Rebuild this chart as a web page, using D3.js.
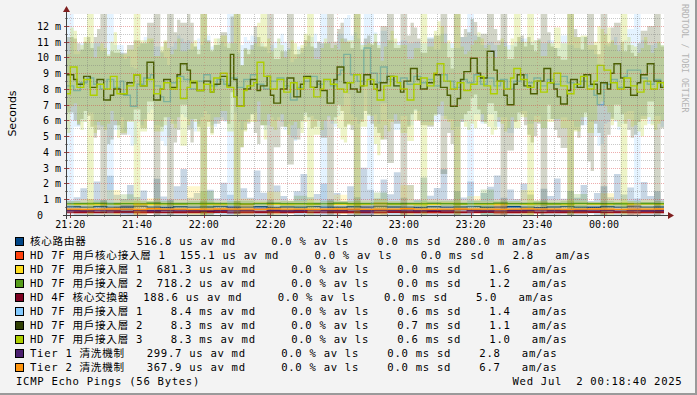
<!DOCTYPE html>
<html>
<head>
<meta charset="utf-8">
<title>ICMP Echo Pings</title>
<script src="https://cdn.jsdelivr.net/npm/d3@7"></script>
<style>
  body { margin: 0; background: #f3f3f3; }
  svg { display: block; }
  text { font-family: "DejaVu Sans Mono", "Noto Sans CJK TC", monospace; white-space: pre; fill: #000; }
  text.legend { font-size: 10.6px; letter-spacing: 0.7px; }
  text.tick { font-size: 10px; }
  text#y_label { font-family: "DejaVu Sans", sans-serif; font-size: 11px; }
  text#credit { font-size: 8.2px; fill: #b4b4b4; }
</style>
</head>
<body>
<script>
// ---- data (milliseconds) ----
var targetNames = ["核心路由器", "HD 7F 用戶核心接入層 1", "HD 7F 用戶接入層 1", "HD 7F 用戶接入層 2",
    "HD 4F 核心交換器", "HD 7F 用戶接入層 1", "HD 7F 用戶接入層 2", "HD 7F 用戶接入層 3",
    "Tier 1 清洗機制", "Tier 2 清洗機制"];

// medians, low latency targets (4 min blocks)
var medRouter = [0.52,0.50,0.53,0.49,0.51,0.55,0.50,0.48,0.52,0.50,0.51,0.54,0.49,0.50,0.52,0.48,0.51,0.50,0.53,0.50,0.49,0.52,0.50,0.55,0.51,0.50,0.48,0.52,0.50,0.51,0.53,0.49,0.50,0.52,0.50,0.47,0.51,0.53,0.50,0.49,0.52,0.50,0.54,0.50,0.51];
var medCoreAccess = [0.15,0.16,0.15,0.15,0.17,0.15,0.16,0.15,0.15,0.16,0.15,0.17,0.15,0.15,0.16,0.15,0.15,0.17,0.16,0.15,0.15,0.16,0.15,0.15,0.17,0.15,0.16,0.15,0.15,0.16,0.15,0.17,0.15,0.15,0.16,0.15,0.15,0.16,0.15,0.17,0.15,0.16,0.15,0.15,0.16];
var medAccess1 = [0.68,0.70,0.67,0.68,0.73,0.68,0.66,0.69,0.68,0.72,0.68,0.67,0.70,0.68,0.74,0.68,0.67,0.69,0.68,0.71,0.68,0.66,0.68,0.72,0.68,0.69,0.67,0.68,0.73,0.68,0.70,0.68,0.67,0.72,0.68,0.69,0.68,0.66,0.71,0.68,0.68,0.73,0.68,0.69,0.68];
var medAccess2 = [0.72,0.72,0.74,0.71,0.72,0.72,0.75,0.72,0.71,0.72,0.73,0.72,0.72,0.70,0.72,0.74,0.72,0.72,0.71,0.72,0.75,0.72,0.72,0.73,0.71,0.72,0.72,0.74,0.72,0.71,0.72,0.72,0.75,0.72,0.72,0.73,0.71,0.72,0.74,0.72,0.72,0.71,0.72,0.73,0.72];
var medCoreSwitch = [0.19,0.19,0.18,0.19,0.20,0.19,0.19,0.18,0.19,0.19,0.21,0.19,0.18,0.19,0.19,0.20,0.19,0.19,0.18,0.19,0.19,0.20,0.19,0.18,0.19,0.19,0.19,0.21,0.19,0.18,0.19,0.19,0.20,0.19,0.19,0.18,0.19,0.19,0.20,0.19,0.18,0.19,0.19,0.20,0.19];
var medTier1 = [0.30,0.29,0.31,0.30,0.34,0.30,0.29,0.30,0.32,0.30,0.28,0.30,0.31,0.30,0.35,0.30,0.29,0.30,0.31,0.30,0.30,0.33,0.29,0.30,0.30,0.31,0.28,0.30,0.30,0.34,0.30,0.29,0.31,0.30,0.30,0.32,0.30,0.29,0.30,0.31,0.30,0.33,0.30,0.29,0.30];
var medTier2 = [0.37,0.36,0.37,0.38,0.37,0.36,0.40,0.37,0.37,0.36,0.37,0.38,0.37,0.37,0.36,0.39,0.37,0.37,0.36,0.37,0.38,0.37,0.36,0.37,0.37,0.40,0.37,0.36,0.37,0.38,0.37,0.37,0.36,0.37,0.39,0.37,0.37,0.36,0.37,0.38,0.37,0.36,0.37,0.37,0.38];

// medians, 7F access layer (1 min steps)
var medUser1 = [8.2,8.2,7.9,7.9,8.4,8.4,8.7,8.7,8.3,8.3, 8.0,8.0,8.6,8.6,8.1,8.1,8.5,7.6,7.6,6.9,
    6.9,8.3,8.3,8.7,8.7,8.9,8.2,8.2,7.5,7.2, 7.2,8.4,8.4,8.8,8.8,8.6,8.6,8.0,8.0,8.5,
    8.5,8.9,8.9,8.2,8.2,8.6,8.6,8.3,8.3,8.7, 8.7,8.1,8.1,8.6,8.6,8.9,8.9,8.3,8.3,8.0,
    8.0,8.5,8.5,8.7,8.7,8.2,8.2,7.3,7.3,8.1, 8.1,8.5,8.5,8.8,8.8,8.3,8.3,8.6,8.6,8.2,
    8.2,8.9,9.2,10.2,10.2,8.9,8.9,8.5,8.5,10.6, 10.6,9.0,9.0,8.4,9.4,9.4,8.6,8.6,8.2,8.2,
    8.7,8.7,8.3,8.3,8.8,8.8,8.4,8.4,8.6,8.6, 8.2,8.2,8.9,8.9,8.5,8.5,8.1,8.1,8.6,8.6,
    8.4,8.4,8.9,8.9,8.3,8.3,8.7,8.7,8.2,8.2, 8.6,8.6,8.0,8.0,8.5,8.5,8.9,8.9,8.4,8.4,
    8.7,8.7,8.2,8.2,8.6,8.6,8.3,8.3,8.8,8.8, 8.4,8.4,8.1,8.1,8.5,8.5,8.2,8.2,7.6,7.0,
    7.0,8.3,8.3,8.6,8.6,8.1,8.1,8.8,9.2,9.2, 9.2,9.2,8.7,8.7,8.3,8.3,8.6,8.6,8.2,8.2];
var medUser2 = [8.9,8.9,8.6,8.3,8.3,8.8,8.8,8.1,8.1,8.6, 8.6,7.3,7.3,7.6,8.0,8.0,7.7,7.7,8.4,8.4,
    8.9,8.9,8.2,8.2,9.7,9.7,7.3,7.3,8.0,8.6, 8.6,8.1,8.1,8.9,9.6,9.6,9.2,8.4,8.4,7.9,
    7.9,8.5,8.5,7.8,8.3,8.3,8.8,8.8,8.2,10.2, 8.6,6.9,6.9,8.0,8.0,8.6,8.6,7.9,8.2,8.2,
    8.8,7.6,7.1,7.1,8.0,8.0,8.7,8.7,7.5,7.5, 8.3,8.8,8.8,8.1,8.1,8.5,7.9,7.9,7.1,7.1,
    8.6,9.4,9.4,8.4,8.4,8.0,8.0,7.8,8.2,8.9, 8.9,8.3,8.3,7.9,8.4,8.4,8.8,8.8,8.2,8.2,
    7.8,8.5,8.5,9.3,9.3,8.6,8.0,8.0,8.4,8.4, 8.9,8.9,8.1,8.1,7.6,6.9,6.9,7.4,8.6,9.1,
    9.1,9.95,9.95,9.0,8.7,8.7,10.4,10.4,9.2,8.5, 8.5,7.6,7.0,7.0,8.3,8.9,8.9,8.2,8.2,7.7,
    7.7,8.5,8.5,9.3,9.3,8.4,8.0,7.5,7.05,7.05, 7.9,8.6,8.6,8.1,8.1,8.9,8.9,8.3,8.3,7.7,
    8.4,8.4,8.0,9.0,9.6,9.6,8.7,8.1,8.1,7.6, 7.6,8.4,8.9,8.9,9.6,9.6,8.5,8.5,8.1,8.1];
var medUser3 = [7.7,9.4,9.4,8.1,8.1,8.6,8.6,7.6,7.6,8.3, 8.3,8.0,8.0,8.8,8.8,7.7,7.7,7.7,8.2,8.2,
    8.9,8.9,8.2,8.2,8.6,8.6,7.7,7.7,8.0,8.4, 8.4,8.0,8.0,8.7,7.4,7.4,8.1,8.5,8.5,7.9,
    7.9,8.3,8.3,7.8,8.7,8.7,9.0,9.0,8.1,8.1, 7.5,6.9,6.9,7.9,8.2,8.2,8.4,9.7,9.7,8.8,
    8.8,8.0,8.0,8.6,8.6,7.8,7.8,8.4,8.4,8.0, 8.0,8.7,8.7,8.1,7.5,7.5,8.0,8.6,8.6,8.3,
    8.3,8.0,8.0,7.8,8.4,8.4,8.9,8.9,8.2,8.2, 8.6,8.6,8.0,7.3,7.3,8.2,8.2,8.8,8.8,8.4,
    8.0,8.0,7.3,7.3,8.3,8.3,8.7,8.7,8.2,8.2, 9.0,9.6,9.6,8.5,8.5,8.0,8.0,8.4,8.4,7.9,
    7.9,8.3,8.3,8.8,8.8,8.2,8.2,7.7,7.7,8.5, 8.5,8.0,8.0,8.7,9.3,9.3,8.6,8.6,8.1,8.1,
    8.5,8.5,7.8,7.8,8.4,8.4,9.0,9.0,8.2,8.2, 7.7,7.7,8.3,8.3,8.8,8.8,8.0,8.0,8.5,9.5,
    9.5,9.2,9.2,8.4,8.4,8.0,8.0,8.7,8.7,8.2, 8.2,7.8,7.8,8.5,8.5,8.0,8.0,8.4,8.4,8.1];

// ping deviation (4 min blocks for the fast ones, 2 min blocks for the rest)
var sdRouter = [0.4,0.6,1.2,0.5,1.6,0.4,2.0,0.8,0.5,1.4, 0.6,1.0,0.4,1.8,0.7,0.5,1.3,2.4,0.6,0.9,
    0.4,1.1,0.5,1.5,0.8,0.4,1.2,0.6,2.3,0.9, 0.5,1.4,0.7,0.4,1.0,2.1,0.6,0.8,1.5,0.5,
    0.9,0.4,1.3,0.6,2.5,1.1,0.5,1.7,0.8,2.2, 0.6,1.4,0.5,1.9,0.7,1.2,2.4,0.5,1.0,0.6,
    1.6,0.4,0.9,1.3,2.0,0.6,1.1,0.5,1.5,0.8, 0.4,1.2,0.7,1.8,0.5,1.0,0.6,1.4,0.4,0.9,
    1.3,0.6,2.1,0.8,1.2,0.5,1.6,0.7,1.0,0.5];
var sdCoreAccess = [0.04,0.05,0.03,0.06,0.04,0.05,0.04,0.03,0.05,0.06,0.04,0.04,0.05,0.03,0.04,0.06,0.05,0.04,0.03,0.05,0.04,0.06,0.04,0.05,0.03,0.04,0.05,0.04,0.06,0.04,0.03,0.05,0.04,0.05,0.04,0.06,0.03,0.04,0.05,0.04,0.05,0.03,0.04,0.06,0.04];
var sdAccess1 = [0.2,0.3,0.15,0.9,0.2,0.25,0.4,0.15,0.3,1.1,0.2,0.25,0.15,0.35,0.2,0.8,0.25,0.2,0.3,0.15,0.6,0.2,0.25,0.3,0.2,1.2,0.15,0.3,0.2,0.25,0.5,0.2,0.3,0.15,0.9,0.2,0.25,0.3,0.2,0.15,0.7,0.25,0.2,0.3,0.2];
var sdAccess2 = [0.15,0.1,0.2,0.12,0.6,0.15,0.1,0.18,0.12,0.15,0.8,0.1,0.15,0.2,0.12,0.1,0.15,0.5,0.12,0.18,0.1,0.15,0.12,0.7,0.15,0.1,0.2,0.12,0.15,0.1,0.18,0.9,0.12,0.15,0.1,0.2,0.12,0.15,0.6,0.1,0.15,0.12,0.18,0.1,0.15];
var sdCoreSwitch = [0.05,0.04,0.06,0.05,0.07,0.05,0.04,0.05,0.06,0.05,0.04,0.05,0.08,0.05,0.04,0.05,0.06,0.05,0.04,0.05,0.05,0.07,0.05,0.04,0.05,0.06,0.05,0.04,0.05,0.05,0.06,0.05,0.04,0.07,0.05,0.05,0.04,0.06,0.05,0.05,0.04,0.05,0.06,0.05,0.04];
var sdUser1 = [9,2.3,2.5,2.2,2.6,2.4,9,2.7,2.3,2.5, 2.4,2.6,2.2,2.5,2.8,2.3,2.6,2.4,2.5,2.7,
    2.3,2.5,2.6,2.4,9,2.2,2.7,2.5,2.4,2.6, 2.3,2.5,2.8,2.4,2.6,2.2,2.5,2.7,9,2.4,
    2.6,2.3,2.5,2.7,2.4,9,2.6,2.3,2.5,2.8, 2.4,2.6,2.2,2.5,2.7,2.3,2.6,2.4,2.5,2.7,
    9,2.5,2.5,2.3,2.6,2.4,2.8,2.5,2.3,2.6, 2.4,2.7,2.5,2.3,2.6,2.4,2.5,2.8,2.3,2.6,
    2.5,2.4,2.7,2.3,2.6,9,2.4,2.5,2.3,2.6];
var sdUser2 = [2.4,2.6,2.2,2.5,3.2,9,2.8,2.3,2.6,2.4, 2.2,2.7,2.5,9,2.4,9,3.5,2.6,3.8,2.3,
    9,2.6,2.5,2.8,2.4,9,2.6,2.2,3.4,2.5, 9,2.8,2.4,5.5,2.7,2.3,2.6,2.5,3.0,9,
    2.4,2.8,2.6,9,2.3,2.5,2.7,3.6,5.5,2.4, 9,2.9,2.6,2.3,2.8,2.5,5.5,2.4,9,2.7,
    2.5,2.3,2.8,3.3,2.6,9,2.9,2.4,2.5,3.1, 2.7,9,2.3,2.6,2.8,9,3.2,2.4,5.5,2.5,
    9,2.9,2.6,2.3,2.7,2.5,2.8,2.4,9,2.6];
var sdUser3 = [2.5,2.3,2.7,9,2.4,2.6,2.2,2.8,2.5,2.3, 9,2.9,2.6,2.4,2.7,2.2,2.5,3.0,2.4,2.6,
    9,2.7,2.5,2.4,2.8,9,2.6,2.3,2.5,4.0, 2.4,2.6,2.2,2.7,2.5,2.8,9,2.4,2.6,2.3,
    2.5,3.2,2.7,9,2.6,2.3,3.5,2.5,2.9,2.4, 2.8,2.6,2.3,9,2.5,2.7,2.4,2.6,9,2.3,
    2.5,2.8,2.4,2.6,2.3,2.7,2.5,3.8,2.4,9, 2.6,2.3,2.5,2.9,2.7,9,3.0,2.6,2.8,2.5,
    2.3,2.7,2.4,9,2.6,2.5,2.8,2.3,2.6,2.4];
var sdTier1 = [0.06,0.08,0.05,0.07,0.3,0.06,0.05,0.08,0.06,0.07,0.05,0.06,0.25,0.07,0.06,0.05,0.08,0.06,0.07,0.05,0.06,0.08,0.3,0.06,0.05,0.07,0.06,0.08,0.05,0.06,0.07,0.06,0.28,0.05,0.07,0.06,0.08,0.05,0.06,0.07,0.06,0.05,0.3,0.07,0.06];
var sdTier2 = [0.08,0.1,0.07,0.12,0.09,0.4,0.08,0.1,0.07,0.09,0.11,0.08,0.1,0.35,0.09,0.08,0.1,0.07,0.12,0.08,0.09,0.1,0.08,0.45,0.09,0.07,0.1,0.08,0.11,0.09,0.08,0.1,0.38,0.07,0.09,0.1,0.08,0.12,0.09,0.08,0.1,0.07,0.4,0.09,0.08];

// legend statistics
var legendMedian = [516.8, 155.1, 681.3, 718.2, 188.6, 8.4, 8.3, 8.3, 299.7, 367.9];
var legendMedianUnit = ["us", "us", "us", "us", "us", "ms", "ms", "ms", "us", "us"];
var legendLoss = [0, 0, 0, 0, 0, 0, 0, 0, 0, 0];
var legendSd = [0, 0, 0, 0, 0, 0.6, 0.7, 0.6, 0, 0];
var legendAmas = [280.0, 2.8, 1.6, 1.2, 5.0, 1.4, 1.1, 1.0, 2.8, 6.7];
var legendAmasUnit = ["m", " ", " ", " ", " ", " ", " ", " ", " ", " "];

var yTicks = [0, 1, 2, 3, 4, 5, 6, 7, 8, 9, 10, 11, 12];

// ---- style / layout ----
var colors = ["#004586", "#ff420e", "#ffde20", "#579d1c", "#7e0021", "#83caff", "#314004", "#aecf00", "#4b1f6f", "#ff950e"];
var legendValueX = [136.7, 180, 156.7, 156.7, 143.3, 156.7, 156.7, 156.7, 146.7, 146.7];

var W = 697, H = 395;
var plotBox = { left: 67, right: 664, top: 14, bottom: 215 };
var MINUTES = 180;
var yMax = 12.76;

var t0 = new Date(2025, 6, 1, 21, 19),
    t1 = new Date(2025, 6, 2, 0, 18);

var x = d3.scaleTime().domain([t0, t1]).range([plotBox.left, plotBox.right]);
var y = d3.scaleLinear().domain([0, yMax]).range([plotBox.bottom, plotBox.top]);

var svg = d3.select("body").append("svg")
    .attr("width", W)
    .attr("height", H);

svg.append("rect").attr("width", W).attr("height", H).attr("fill", "#f3f3f3");
svg.append("rect").attr("x", W - 2).attr("y", 0).attr("width", 2).attr("height", H).attr("fill", "#9a9a9a");
svg.append("rect").attr("x", 0).attr("y", H - 2).attr("width", W).attr("height", 2).attr("fill", "#9a9a9a");

svg.append("rect")
    .attr("x", plotBox.left).attr("y", plotBox.top)
    .attr("width", plotBox.right - plotBox.left)
    .attr("height", plotBox.bottom - plotBox.top)
    .attr("fill", "#fff");

svg.append("clipPath").attr("id", "clip")
    .append("rect")
    .attr("x", plotBox.left).attr("y", plotBox.top)
    .attr("width", plotBox.right - plotBox.left)
    .attr("height", plotBox.bottom - plotBox.top);

// spread a block array over the 180 minutes
function expand(arr) {
    var out = [];
    for (var t = 0; t <= MINUTES; t++) {
        var i = Math.min(arr.length - 1, Math.floor(t * arr.length / MINUTES));
        out.push(arr[i]);
    }
    return out;
}

var medSeries = [medRouter, medCoreAccess, medAccess1, medAccess2, medCoreSwitch,
    medUser1, medUser2, medUser3, medTier1, medTier2];
var sdSeries = [sdRouter, sdCoreAccess, sdAccess1, sdAccess2, sdCoreSwitch,
    sdUser1, sdUser2, sdUser3, sdTier1, sdTier2];

var targets = targetNames.map(function (name, i) {
    var m = expand(medSeries[i]), s = expand(sdSeries[i]);
    return {
        name: name,
        color: colors[i],
        rows: m.map(function (v, t) {
            return { date: d3.timeMinute.offset(t0, t), m: v, s: s[t] };
        })
    };
});

var area = d3.area()
    .curve(d3.curveStepAfter)
    .x(d => x(d.date))
    .y0(d => y(Math.max(0, d.m - d.s)))
    .y1(d => y(Math.min(yMax + 1, d.m + d.s)));

var line = d3.line()
    .curve(d3.curveStepAfter)
    .x(d => x(d.date))
    .y(d => y(d.m));

var graph = svg.append("g").attr("id", "graph").attr("clip-path", "url(#clip)");

targets.forEach(function (tg) {
    graph.append("path")
        .attr("d", area(tg.rows))
        .attr("fill", tg.color)
        .attr("fill-opacity", 0.22);
    graph.append("path")
        .attr("d", line(tg.rows))
        .attr("fill", "none")
        .attr("stroke", tg.color)
        .attr("stroke-width", 1.4);
});

// grid on top of the data, like rrdtool
var grid = svg.append("g").attr("id", "grid").attr("shape-rendering", "crispEdges");
var minorColor = "rgba(120,120,120,0.4)", majorColor = "rgba(210,50,50,0.4)",
    majorColorV = "rgba(210,50,50,0.22)";

d3.range(0.5, yMax, 1).forEach(function (v) {
    var yy = Math.round(y(v)) + 0.5;
    grid.append("line").attr("x1", plotBox.left).attr("x2", plotBox.right)
        .attr("y1", yy).attr("y2", yy)
        .attr("stroke", minorColor).attr("stroke-dasharray", "1,1");
});
yTicks.filter(v => v > 0).forEach(function (v) {
    var yy = Math.round(y(v)) + 0.5;
    grid.append("line").attr("x1", plotBox.left).attr("x2", plotBox.right)
        .attr("y1", yy).attr("y2", yy)
        .attr("stroke", majorColor).attr("stroke-dasharray", "1,1");
});

var minorTimes = d3.timeMinute.every(5).range(t0, t1);
minorTimes.forEach(function (d) {
    var xx = Math.round(x(d)) + 0.5;
    var major = d.getMinutes() % 20 === 0;
    grid.append("line").attr("x1", xx).attr("x2", xx)
        .attr("y1", plotBox.top).attr("y2", plotBox.bottom)
        .attr("stroke", major ? majorColorV : minorColor).attr("stroke-dasharray", major ? "1,2" : "1,1");
    grid.append("line").attr("x1", xx).attr("x2", xx)
        .attr("y1", plotBox.bottom - (major ? 2 : 1)).attr("y2", plotBox.bottom + (major ? 3 : 2))
        .attr("stroke", major ? "#a04040" : "#888");
});
d3.range(0.5, yMax, 0.5).forEach(function (v) {
    var yy = Math.round(y(v)) + 0.5;
    var major = v % 1 === 0;
    grid.append("line").attr("x1", plotBox.left - (major ? 3 : 2)).attr("x2", plotBox.left + (major ? 2 : 1))
        .attr("y1", yy).attr("y2", yy)
        .attr("stroke", major ? "#a04040" : "#888");
});

// axes with arrows
var axes = svg.append("g").attr("id", "axes").attr("shape-rendering", "crispEdges");
axes.append("line").attr("x1", plotBox.left - 4).attr("x2", plotBox.right + 5)
    .attr("y1", plotBox.bottom + 0.5).attr("y2", plotBox.bottom + 0.5).attr("stroke", "#404040");
axes.append("line").attr("x1", plotBox.left - 0.5).attr("x2", plotBox.left - 0.5)
    .attr("y1", plotBox.bottom + 4).attr("y2", plotBox.top - 3).attr("stroke", "#404040");
svg.append("path")
    .attr("d", "M" + (plotBox.right + 4) + "," + (plotBox.bottom - 3) + "L" + (plotBox.right + 10) + "," + (plotBox.bottom + 0.5) + "L" + (plotBox.right + 4) + "," + (plotBox.bottom + 4) + "Z")
    .attr("fill", "#7f1f1f");
svg.append("path")
    .attr("d", "M" + (plotBox.left - 4) + "," + (plotBox.top - 2) + "L" + (plotBox.left - 0.5) + "," + (plotBox.top - 8) + "L" + (plotBox.left + 3) + "," + (plotBox.top - 2) + "Z")
    .attr("fill", "#7f1f1f");

// tick labels
var fmt = d3.timeFormat("%H:%M");
svg.append("g").attr("id", "x_axis").selectAll("text")
    .data(minorTimes.filter(d => d.getMinutes() % 20 === 0))
    .enter().append("text")
    .attr("class", "tick")
    .attr("x", d => x(d))
    .attr("y", 228)
    .attr("text-anchor", "middle")
    .text(d => fmt(d));

svg.append("g").attr("id", "y_axis").selectAll("text")
    .data(yTicks)
    .enter().append("text")
    .attr("class", "tick")
    .attr("x", 37)
    .attr("y", d => y(d) + 4)
    .text(d => d === 0 ? "0" : String(d).padStart(2) + " m");

svg.append("text")
    .attr("id", "y_label")
    .attr("transform", "translate(15.5,113.5) rotate(-90)")
    .attr("text-anchor", "middle")
    .text("Seconds");

svg.append("text")
    .attr("id", "credit")
    .attr("transform", "translate(682,4) rotate(90)")
    .text("RRDTOOL / TOBI OETIKER");

// legend
function f1(v) { return v.toFixed(1).padStart(5); }
var legend = svg.append("g").attr("id", "legend");
targets.forEach(function (tg, i) {
    var by = 245 + i * 14;
    legend.append("rect")
        .attr("x", 15.5).attr("y", by - 7.5)
        .attr("width", 8).attr("height", 8)
        .attr("fill", tg.color).attr("stroke", "#000").attr("stroke-width", 1);
    legend.append("text").attr("class", "legend")
        .attr("x", 30).attr("y", by)
        .text(tg.name);
    legend.append("text").attr("class", "legend")
        .attr("x", legendValueX[i]).attr("y", by)
        .text(f1(legendMedian[i]) + " " + legendMedianUnit[i] + " av md   " +
              f1(legendLoss[i]) + " % av ls  " +
              f1(legendSd[i]) + " ms sd  " +
              f1(legendAmas[i]) + " " + legendAmasUnit[i] + " am/as");
});

svg.append("text").attr("class", "legend")
    .attr("x", 16).attr("y", 385)
    .text("ICMP Echo Pings (56 Bytes)");
svg.append("text").attr("class", "legend")
    .attr("x", 512.5).attr("y", 385)
    .text("Wed Jul  2 00:18:40 2025");
</script>
</body>
</html>
